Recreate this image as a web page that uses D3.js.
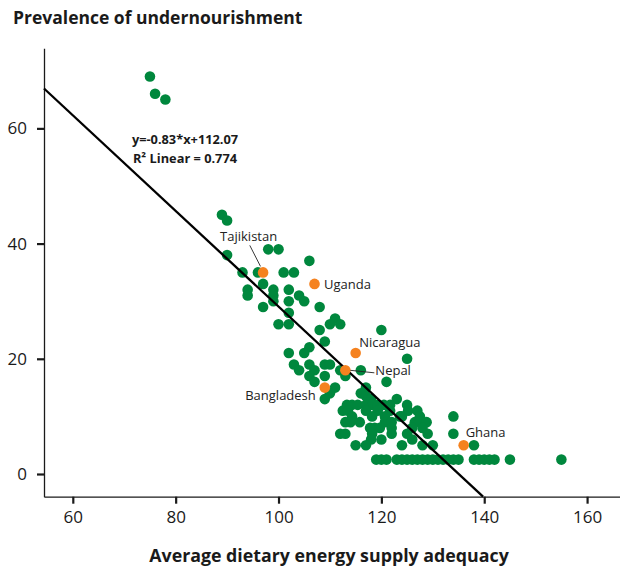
<!DOCTYPE html>
<html>
<head>
<meta charset="utf-8">
<script src="https://cdn.jsdelivr.net/npm/d3@7"></script>
<style>
  body { margin: 0; background: #fff; }
  svg { display: block; }
  text { font-family: "Open Sans", "Noto Sans", sans-serif; }
</style>
</head>
<body>
<svg id="chart" width="620" height="569"></svg>
<script>
// ---- Data ----
const supplyAdequacy = [
  75, 76, 78,
  89, 90, 90,
  98, 100, 106,
  93, 96, 101, 103,
  97,
  94, 94, 99, 99, 99, 102, 104, 105, 102,
  97, 108, 102,
  100, 102, 111, 110, 112,
  108, 120,
  109,
  106, 105, 102,
  125,
  103, 106, 109, 110,
  104, 107, 106, 107, 109, 112, 113, 116,
  121,
  111, 110, 109,
  117, 116, 117, 118,
  123,
  113.3, 114.3, 115.4, 117, 118.2, 119.3, 120.5, 121.7, 125,
  112.5, 113.5, 117, 119.3, 121.7, 125.2, 127,
  114.3, 118.2, 120.7, 123.6, 124, 127.5, 134,
  113, 114, 115.8, 120.7, 122, 126.5, 127.5, 128.8,
  117.8, 118.7, 119.7, 122, 126, 128,
  112, 113, 118.2, 122, 125, 129, 134,
  118, 120, 126,
  115, 117, 124, 128, 130, 138,
  119, 120, 121, 123, 124, 125, 126, 127, 128, 129, 130, 131, 132, 133, 134, 135,
  138, 139, 140, 141, 142, 145, 155
];
const undernourishment = [
  69, 66, 65,
  45, 44, 38,
  39, 39, 37,
  35, 35, 35, 35,
  33,
  32, 31, 32, 31, 30, 32, 31, 30, 30,
  29, 29, 28,
  26, 26, 27, 26, 26,
  25, 25,
  23,
  22, 21, 21,
  20,
  19, 19, 19, 19,
  18, 18, 17, 16, 17, 18, 17, 18,
  16,
  15, 14, 13,
  15, 14, 13.5, 13,
  13,
  12, 12, 12, 12, 12, 12, 12, 12, 12,
  11, 11, 11, 11, 11, 11, 11,
  10, 10, 10, 10, 10, 10, 10,
  9, 9, 9, 9, 9, 9, 9, 9,
  8, 8, 8, 8, 8, 8,
  7, 7, 7, 7, 7, 7, 7,
  6, 6, 6,
  5, 5, 5, 5, 5, 5,
  2.5, 2.5, 2.5, 2.5, 2.5, 2.5, 2.5, 2.5, 2.5, 2.5, 2.5, 2.5, 2.5, 2.5, 2.5, 2.5,
  2.5, 2.5, 2.5, 2.5, 2.5, 2.5, 2.5
];
const countries = ["Tajikistan", "Uganda", "Nicaragua", "Nepal", "Bangladesh", "Ghana"];
const countrySupply = [97, 107, 115, 113, 109, 136];
const countryPrevalence = [35, 33, 21, 18, 15, 5];
const xTicks = [60, 80, 100, 120, 140, 160];
const yTicks = [0, 20, 40, 60];
const slope = -0.83;
const intercept = 112.07;
const equationText = "y=-0.83*x+112.07";
const r2Text = "R² Linear = 0.774";

// ---- Layout / style ----
const green = "#00873d";
const orange = "#f5821f";
const R = 5.3;
// label offsets relative to the point (style only)
const labelStyle = {
  "Tajikistan": { dx: -43, dy: -31.5, anchor: "start", lead: [[-2.6, -6], [-13.3, -27]] },
  "Uganda":     { dx: 9.5,   dy: 5.5,   anchor: "start" },
  "Nicaragua":  { dx: 3.6,   dy: -6,    anchor: "start" },
  "Nepal":      { dx: 30,    dy: 5,     anchor: "start", lead: [[5, 0], [29, 2.5]] },
  "Bangladesh": { dx: -9,    dy: 12.5,  anchor: "end" },
  "Ghana":      { dx: 2,     dy: -8,    anchor: "start" }
};

const svg = d3.select("#chart");
const x = d3.scaleLinear().domain([54.4, 166.4]).range([44, 620]);
const y = d3.scaleLinear().domain([-3.94, 73.9]).range([496.7, 48.3]);

// Title
svg.append("text").attr("x", 13).attr("y", 23.5)
  .attr("font-size", 17.5).attr("font-weight", "bold").attr("fill", "#1a1a1a")
  .text("Prevalence of undernourishment");

// Axes
const xAxis = svg.append("g").attr("transform", `translate(0,${y.range()[0]})`)
  .call(d3.axisBottom(x).tickValues(xTicks).tickSize(7).tickSizeOuter(0).tickPadding(7));
const yAxis = svg.append("g").attr("transform", `translate(${x.range()[0]},0)`)
  .call(d3.axisLeft(y).tickValues(yTicks).tickSize(7).tickSizeOuter(0).tickPadding(10));
[xAxis, yAxis].forEach(g => {
  g.select(".domain").attr("stroke", "#1a1a1a").attr("stroke-width", 1.3);
  g.selectAll(".tick line").attr("stroke", "#1a1a1a").attr("stroke-width", 2.2);
  g.selectAll(".tick text").attr("font-size", 17).attr("fill", "#1a1a1a")
    .attr("font-family", "'Open Sans', 'Noto Sans', sans-serif");
});

// X axis title
svg.append("text").attr("x", 329).attr("y", 562).attr("text-anchor", "middle")
  .attr("font-size", 17.8).attr("font-weight", "bold").attr("fill", "#1a1a1a")
  .text("Average dietary energy supply adequacy");

// Points
const pts = supplyAdequacy.map((v, i) => ({ x: v, y: undernourishment[i] }));
svg.append("g").selectAll("circle").data(pts).join("circle")
  .attr("cx", d => x(d.x)).attr("cy", d => y(d.y)).attr("r", R).attr("fill", green);

// Regression line
const x0 = x.domain()[0];
const x1 = (y.domain()[0] - intercept) / slope;
svg.append("line")
  .attr("x1", x(x0)).attr("y1", y(slope * x0 + intercept))
  .attr("x2", x(x1)).attr("y2", y(slope * x1 + intercept))
  .attr("stroke", "#000").attr("stroke-width", 2.3);

// Highlighted countries
const cpts = countries.map((c, i) => ({ name: c, x: countrySupply[i], y: countryPrevalence[i] }));
svg.append("g").selectAll("circle").data(cpts).join("circle")
  .attr("cx", d => x(d.x)).attr("cy", d => y(d.y)).attr("r", R).attr("fill", orange);

const lg = svg.append("g");
cpts.forEach(d => {
  const s = labelStyle[d.name];
  const px = x(d.x), py = y(d.y);
  if (s.lead) {
    lg.append("line")
      .attr("x1", px + s.lead[0][0]).attr("y1", py + s.lead[0][1])
      .attr("x2", px + s.lead[1][0]).attr("y2", py + s.lead[1][1])
      .attr("stroke", "#222").attr("stroke-width", 0.9);
  }
  lg.append("text").attr("x", px + s.dx).attr("y", py + s.dy)
    .attr("text-anchor", s.anchor).attr("font-size", 13).attr("fill", "#222")
    .text(d.name);
});

// Equation annotation
svg.append("text").attr("x", 185).attr("y", 143.5).attr("text-anchor", "middle")
  .attr("font-size", 12.8).attr("font-weight", "bold").attr("fill", "#1a1a1a")
  .text(equationText);
svg.append("text").attr("x", 185).attr("y", 162.5).attr("text-anchor", "middle")
  .attr("font-size", 12.8).attr("font-weight", "bold").attr("fill", "#1a1a1a")
  .text(r2Text);
</script>
</body>
</html>
